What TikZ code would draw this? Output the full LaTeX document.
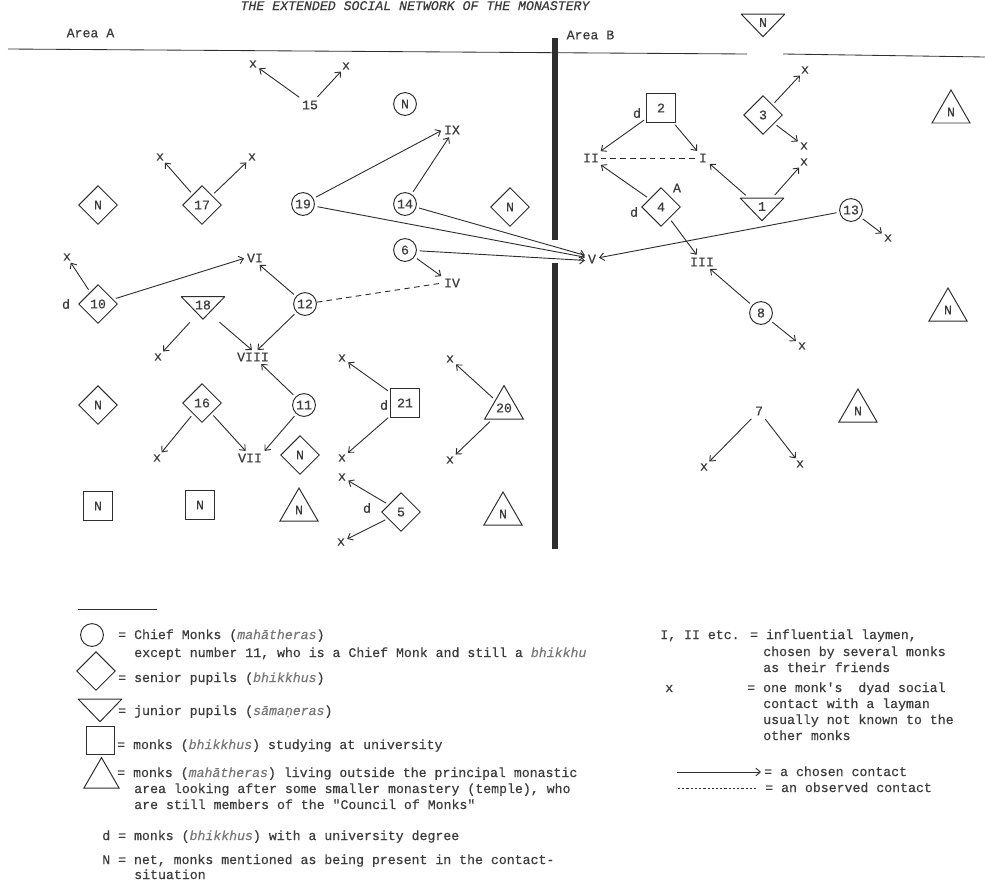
\documentclass[tikz,border=0pt]{standalone}
\usepackage{fontspec}
\usepackage{tikz}
\usetikzlibrary{arrows.meta,shapes.geometric}
\newfontfamily\typer{Liberation Mono}[FakeBold=0.5]
\definecolor{ink}{HTML}{2E2E2E}
\definecolor{inkT}{HTML}{3C3C3C}
\definecolor{termG}{HTML}{777777}
\newcommand\twfont{\typer\fontsize{9.4pt}{12pt}\selectfont}
\newcommand\term[1]{\textcolor{termG}{\textit{#1}}}

\begin{document}
\begin{tikzpicture}[x=0.025cm, y=-0.025cm,
    lbl/.style={font=\twfont, text=inkT, inner sep=1pt},
    dyad/.style={lbl, inner sep=0.5pt},
    chief/.style={lbl, circle, draw=ink, line width=0.7pt, minimum size=0.57cm, inner sep=0pt},
    senior/.style={lbl, diamond, draw=ink, line width=0.7pt, minimum width=0.97cm, minimum height=0.97cm, inner sep=0pt},
    student/.style={lbl, rectangle, draw=ink, line width=0.7pt, minimum size=0.71cm, inner sep=0pt},
    outside/.style={lbl, regular polygon, regular polygon sides=3, draw=ink, line width=0.7pt, minimum size=1.1cm, inner sep=0pt},
    junior/.style={lbl, minimum width=1.12cm, minimum height=0.6cm, inner sep=0pt,
        text height=0.22cm, text depth=0.15cm,
        path picture={\draw[ink, line width=0.7pt, line join=round]
            ([shift={(0.5pt,-0.5pt)}]path picture bounding box.north west) --
            ([shift={(-0.5pt,-0.5pt)}]path picture bounding box.north east) --
            ([shift={(0pt,0.6pt)}]path picture bounding box.south) -- cycle;}},
    chosen/.style={draw=ink, line width=0.65pt, -{Straight Barb[length=3.2pt,width=5.5pt]},
        shorten <=2pt, shorten >=1pt},
    observed/.style={draw=ink, line width=0.65pt, dash pattern=on 4pt off 3pt},
    keytext/.style={font=\twfont, text=inkT, anchor=base west, inner sep=0pt}]
  \useasboundingbox (0,0) rectangle (985,882);

  % title and the two areas
  \node[lbl, anchor=base, font=\twfont\itshape] (title) at (415,10)
    {THE EXTENDED SOCIAL NETWORK OF THE MONASTERY};
  \node[lbl, anchor=west] (areaA) at (65,33) {Area A};
  \node[lbl, anchor=west] (areaB) at (565,35) {Area B};
  \draw[ink, line width=0.6pt] (8,49) -- (747,54);
  \draw[ink, line width=0.6pt] (783,54) -- (985,57);
  \draw[ink, line width=3.6pt] (555,38) -- (555,240);
  \draw[ink, line width=3.6pt] (555,263) -- (555,549);

  % influential laymen
  \node[lbl] (lI) at (703,158) {I};
  \node[lbl] (lII) at (591,158) {II};
  \node[lbl] (lIII) at (702,262) {III};
  \node[lbl] (lIV) at (452,283) {IV};
  \node[lbl] (lV) at (592,259) {V};
  \node[lbl] (lVI) at (255,258) {VI};
  \node[lbl] (lVII) at (250,458) {VII};
  \node[lbl] (lVIII) at (253,357) {VIII};
  \node[lbl] (lIX) at (452,130) {IX};

  % area A monks
  \node[lbl] (n15) at (310,105) {15};
  \node[dyad] (x15a) at (253,64) {x};
  \node[dyad] (x15b) at (346,66) {x};
  \node[chief] (netC1) at (405,104) {N};
  \node[senior] (netD1) at (98,205) {N};
  \node[senior] (m17) at (202,205) {17};
  \node[dyad] (x17a) at (160,157) {x};
  \node[dyad] (x17b) at (252,157) {x};
  \node[chief] (m19) at (303,204) {19};
  \node[chief] (m14) at (405,204) {14};
  \node[senior] (netD2) at (510,207) {N};
  \node[chief] (m6) at (405,250) {6};
  \node[dyad] (x10) at (67,257) {x};
  \node[senior] (m10) at (98,304) {10};
  \node[lbl] (d10) at (66,304) {d};
  \node[chief] (m12) at (305,304) {12};
  \node[junior] (m18) at (203,308) {18};
  \node[dyad] (x18) at (158,357) {x};
  \node[senior] (netD3) at (98,405) {N};
  \node[senior] (m16) at (202,403) {16};
  \node[chief] (m11) at (304,405) {11};
  \node[dyad] (x16) at (157,458) {x};
  \node[senior] (netD4) at (300,455) {N};
  \node[outside] (netT1) at (299,510) {N};
  \node[student] (netS1) at (98,506) {N};
  \node[student] (netS2) at (200,505) {N};
  \node[dyad] (x21a) at (342,358) {x};
  \node[student] (m21) at (405,403) {21};
  \node[lbl] (d21) at (384,405) {d};
  \node[dyad] (x21b) at (342,458) {x};
  \node[dyad] (x5a) at (342,477) {x};
  \node[senior] (m5) at (401,512) {5};
  \node[lbl] (d5) at (367,508) {d};
  \node[dyad] (x5b) at (341,542) {x};
  \node[outside] (m20) at (504,408) {20};
  \node[dyad] (x20a) at (450,359) {x};
  \node[dyad] (x20b) at (450,460) {x};
  \node[outside] (netT2) at (503,514) {N};

  % area B monks
  \node[junior] (netJ1) at (763,25.5) {N};
  \node[student] (m2) at (661,108) {2};
  \node[lbl] (d2) at (637,113) {d};
  \node[senior] (m3) at (763,115) {3};
  \node[dyad] (x3a) at (805,70) {x};
  \node[dyad] (x3b) at (804,146) {x};
  \node[dyad] (x1) at (804,162) {x};
  \node[junior] (m1) at (762,209.5) {1};
  \node[senior] (m4) at (661,207) {4};
  \node[lbl] (d4) at (634,212) {d};
  \node[lbl] (a4) at (677,188) {A};
  \node[chief] (m13) at (851,210) {13};
  \node[dyad] (x13) at (888,238) {x};
  \node[chief] (m8) at (761,313) {8};
  \node[dyad] (x8) at (802,346) {x};
  \node[outside] (netT3) at (951,112) {N};
  \node[outside] (netT4) at (948,310) {N};
  \node[outside] (netT5) at (858,411) {N};
  \node[lbl] (n7) at (759,411) {7};
  \node[dyad] (x7a) at (704,467) {x};
  \node[dyad] (x7b) at (800,464) {x};

  % contacts, area A
  \draw[chosen] (n15) -- (x15a);
  \draw[chosen] (n15) -- (x15b);
  \draw[chosen] (m17) -- (x17a);
  \draw[chosen] (m17) -- (x17b);
  \draw[chosen] (m19) -- (lIX.west);
  \draw[chosen] (m14) -- (lIX.-110);
  \draw[chosen] (m19) -- (lV.165);
  \draw[chosen] (m14) -- (lV.150);
  \draw[chosen] (m6) -- (lV.195);
  \draw[chosen] (m6) -- (lIV.north west);
  \draw[observed] (m12) -- (lIV.west);
  \draw[chosen] (m10) -- (x10);
  \draw[chosen] (m10) -- (lVI.west);
  \draw[chosen] (m12) -- (lVI.-60);
  \draw[chosen] (m18) -- (x18);
  \draw[chosen] (m18) -- (lVIII.north);
  \draw[chosen] (m12) -- (lVIII.60);
  \draw[chosen] (m11) -- (lVIII.-40);
  \draw[chosen] (m16) -- (x16);
  \draw[chosen] (m16) -- (lVII.120);
  \draw[chosen] (m11) -- (lVII.north east);
  \draw[chosen] (m21) -- (x21a);
  \draw[chosen] (m21) -- (x21b);
  \draw[chosen] (m5) -- (x5a);
  \draw[chosen] (m5) -- (x5b);
  \draw[chosen] (m20) -- (x20a);
  \draw[chosen] (m20) -- (x20b);

  % contacts, area B
  \draw[chosen] (m2) -- (lII);
  \draw[chosen] (m2) -- (lI);
  \draw[observed] (lII) -- (lI);
  \draw[chosen] (m3) -- (x3a);
  \draw[chosen] (m3) -- (x3b);
  \draw[chosen] (m1) -- (lI);
  \draw[chosen] (m1) -- (x1);
  \draw[chosen] (m4) -- (lII);
  \draw[chosen] (m4) -- (lIII);
  \draw[chosen] (m13) -- (x13);
  \draw[chosen] (m13) -- (lV);
  \draw[chosen] (m8) -- (lIII);
  \draw[chosen] (m8) -- (x8);
  \draw[chosen] (n7) -- (x7a);
  \draw[chosen] (n7) -- (x7b);

  % key, left
  \draw[ink, line width=0.5pt] (78,609) -- (157,609);
  \node[chief] (keyC) at (92,635) {};
  \node[senior] (keyD) at (96,671) {};
  \node[junior] (keyJ) at (100,710.5) {};
  \node[student] (keyS) at (100.5,740.5) {};
  \node[outside, minimum size=1.02cm] (keyT) at (101.5,778) {};
  \node[keytext] (kt1) at (118,639) {= Chief Monks (\term{mahātheras})};
  \node[keytext] (kt2) at (134,657) {except number 11, who is a Chief Monk and still a \term{bhikkhu}};
  \node[keytext] (kt3) at (118,682) {= senior pupils (\term{bhikkhus})};
  \node[keytext] (kt4) at (118,715) {= junior pupils (\term{sāmaṇeras})};
  \node[keytext] (kt5) at (117,749) {= monks (\term{bhikkhus}) studying at university};
  \node[keytext] (kt6) at (117,777) {= monks (\term{mahātheras}) living outside the principal monastic};
  \node[keytext] (kt7) at (134,793) {area looking after some smaller monastery (temple), who};
  \node[keytext] (kt8) at (134,809) {are still members of the "Council of Monks"};
  \node[keytext] (kt9) at (102,840) {d = monks (\term{bhikkhus}) with a university degree};
  \node[keytext] (kt10) at (102,864) {N = net, monks mentioned as being present in the contact-};
  \node[keytext] (kt11) at (134,879) {situation};

  % key, right
  \node[keytext] (kr1) at (660,639) {I, II etc. = influential laymen,};
  \node[keytext] (kr2) at (763,656) {chosen by several monks};
  \node[keytext] (kr3) at (763,672) {as their friends};
  \node[keytext] (kr4) at (665,692) {x};
  \node[keytext] (kr5) at (747,692) {= one monk's\ \ dyad social};
  \node[keytext] (kr6) at (763,708) {contact with a layman};
  \node[keytext] (kr7) at (763,724) {usually not known to the};
  \node[keytext] (kr8) at (763,740) {other monks};
  \coordinate (keyA0) at (677,772);
  \coordinate (keyA1) at (761,772);
  \draw[chosen, shorten <=0pt, shorten >=0pt] (keyA0) -- (keyA1);
  \node[keytext] (kr9) at (764,776) {= a chosen contact};
  \coordinate (keyB0) at (678,788);
  \coordinate (keyB1) at (757,788);
  \draw[ink, line width=0.5pt, dash pattern=on 1.6pt off 1.4pt] (keyB0) -- (keyB1);
  \node[keytext] (kr10) at (765,792) {= an observed contact};
\end{tikzpicture}
\end{document}
